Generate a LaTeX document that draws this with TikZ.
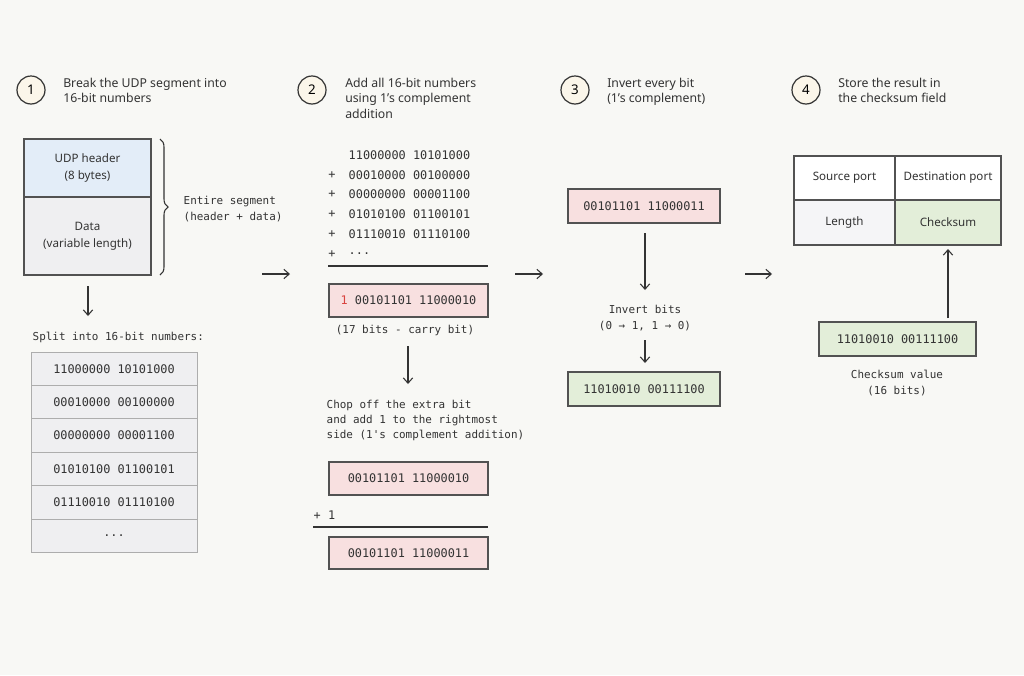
\documentclass[tikz,border=0pt]{standalone}
\usepackage{fontspec}
\setmainfont{Noto Sans}
\setmonofont{DejaVu Sans Mono}
\usetikzlibrary{decorations.pathreplacing,arrows.meta}
\definecolor{bg}{HTML}{F8F8F5}
\definecolor{bluef}{HTML}{E3EDF8}
\definecolor{greyf}{HTML}{EFEFF1}
\definecolor{redf}{HTML}{F8E0E0}
\definecolor{greenf}{HTML}{E3EED9}
\definecolor{circf}{HTML}{FBF6EA}
\definecolor{ink}{HTML}{333333}
\definecolor{carry}{HTML}{D9443F}
\newcommand\mydots{...}
\begin{document}
\begin{tikzpicture}[x=0.75pt,y=-0.75pt,
  stepc/.style={circle,draw=ink,line width=0.9pt,fill=circf,minimum size=21pt,inner sep=0pt,font=\fontsize{10}{11}\selectfont},
  title/.style={anchor=north west,align=left,font=\fontsize{9.2}{11.5}\selectfont,text=ink,inner sep=0pt},
  mono/.style={font=\ttfamily\fontsize{8.2}{11.5}\selectfont,text=ink},
  num/.style={font=\ttfamily\fontsize{8.9}{11.5}\selectfont,text=ink},
  box/.style={draw=ink!85,line width=0.8pt},
  arr/.style={-{Straight Barb[length=4pt,width=7pt]},draw=ink,line width=0.8pt},
  sans/.style={font=\fontsize{8.7}{12.5}\selectfont,text=ink,align=center}]
\fill[bg] (0,0) rectangle (1024,675);
\useasboundingbox (0,0) rectangle (1024,675);
% steps
\node[stepc] (s1) at (31,90) {1};
\node[stepc] (s2) at (312,90) {2};
\node[stepc] (s3) at (575,90) {3};
\node[stepc] (s4) at (806,90) {4};
\node[title] (t1) at (63,78) {Break the UDP segment into\\16-bit numbers};
\node[title] (t2) at (345,78) {Add all 16-bit numbers\\using 1's complement\\addition};
\node[title] (t3) at (607,78) {Invert every bit\\(1's complement)};
\node[title] (t4) at (838,78) {Store the result in\\the checksum field};
% column 1
\draw[box,fill=bluef] (24,139) rectangle (151,197);
\draw[box,fill=greyf] (24,197) rectangle (151,275);
\node[sans] (hdr) at (87.5,168) {UDP header\\(8 bytes)};
\node[sans] (dat) at (87.5,236) {Data\\(variable length)};
\draw[ink,line width=0.8pt,decorate,decoration={brace,amplitude=6pt}] (160,139) -- (160,275);
\node[mono,anchor=west,align=left] (ent) at (179,209) {Entire segment\\(header + data)};
\coordinate (a1s) at (88,286); \coordinate (a1e) at (88,316);
\draw[arr] (a1s) -- (a1e);
\node[mono,anchor=west] (split) at (28,337) {Split into 16-bit numbers:};
\foreach \i/\t in {0/11000000 10101000,1/00010000 00100000,2/00000000 00001100,3/01010100 01100101,4/01110010 01110100,5/\mydots}{
  \draw[draw=ink!40,fill=greyf,line width=0.6pt] (31,352+\i*33.4) rectangle (197,385.4+\i*33.4);
  \node[num] (r\i) at (114,368.7+\i*33.4) {\t};
}
\coordinate (b1) at (262,274); \coordinate (b2) at (290,274);
\draw[arr] (b1) -- (b2);
% column 2
\foreach \i/\t in {0/11000000 10101000,1/00010000 00100000,2/00000000 00001100,3/01010100 01100101,4/01110010 01110100,5/\mydots}{
  \node[num,anchor=west] (n\i) at (344,155+\i*19.8) {\t};
}
\foreach \i in {1,2,3,4,5}{\node[num] (p\i) at (332,155+\i*19.8) {+};}
\draw[ink,line width=0.8pt] (328,266) -- (488,266);
\draw[box,fill=redf] (329,284) rectangle (488,317);
\node[num] (sum) at (408.5,300.5) {\textcolor{carry}{1} 00101101 11000010};
\node[mono] (c17) at (405,330) {(17 bits - carry bit)};
\coordinate (c1) at (408,346); \coordinate (c2) at (408,384);
\draw[arr] (c1) -- (c2);
\node[mono,anchor=north west,align=left] (chop) at (322,395) {Chop off the extra bit\\and add 1 to the rightmost\\side (1's complement addition)};
\draw[box,fill=redf] (329,462) rectangle (488,495);
\node[num] (v1) at (408.5,478.5) {00101101 11000010};
\node[num,anchor=west] (pl) at (309,515) {+ 1};
\draw[ink,line width=0.8pt] (313,527) -- (488,527);
\draw[box,fill=redf] (329,537) rectangle (488,569);
\node[num] (v2) at (408.5,553) {00101101 11000011};
\coordinate (d1) at (515,274); \coordinate (d2) at (543,274);
\draw[arr] (d1) -- (d2);
% column 3
\draw[box,fill=redf] (568,189) rectangle (720,223);
\node[num] (x1) at (644,206) {00101101 11000011};
\coordinate (e1) at (645,233); \coordinate (e2) at (645,290);
\draw[arr] (e1) -- (e2);
\node[mono,align=center] (inv) at (645,318) {Invert bits\\(0 → 1, 1 → 0)};
\coordinate (f1) at (645,340); \coordinate (f2) at (645,363);
\draw[arr] (f1) -- (f2);
\draw[box,fill=greenf] (568,372) rectangle (720,406);
\node[num] (x2) at (644,389) {11010010 00111100};
\coordinate (g1) at (745,274); \coordinate (g2) at (772,274);
\draw[arr] (g1) -- (g2);
% column 4
\draw[box,fill=white] (794,156) rectangle (1001,245);
\fill[greyf!60] (794,200) rectangle (895,245);
\fill[greenf] (895,200) rectangle (1001,245);
\draw[box] (794,156) rectangle (1001,245);
\draw[box] (895,156) -- (895,245);
\draw[box] (794,200) -- (1001,200);
\node[sans] (sp) at (844.5,178) {Source port};
\node[sans] (dp) at (948,178) {Destination port};
\node[sans] (ln) at (844.5,222.5) {Length};
\node[sans] (ck) at (948,222.5) {Checksum};
\draw[box,fill=greenf] (819,322) rectangle (976,356);
\node[num] (cv) at (897.5,339) {11010010 00111100};
\coordinate (h1) at (948,318); \coordinate (h2) at (948,249);
\draw[arr] (h1) -- (h2);
\node[mono,align=center] (cvl) at (897,383) {Checksum value\\(16 bits)};
\end{tikzpicture}
\end{document}
